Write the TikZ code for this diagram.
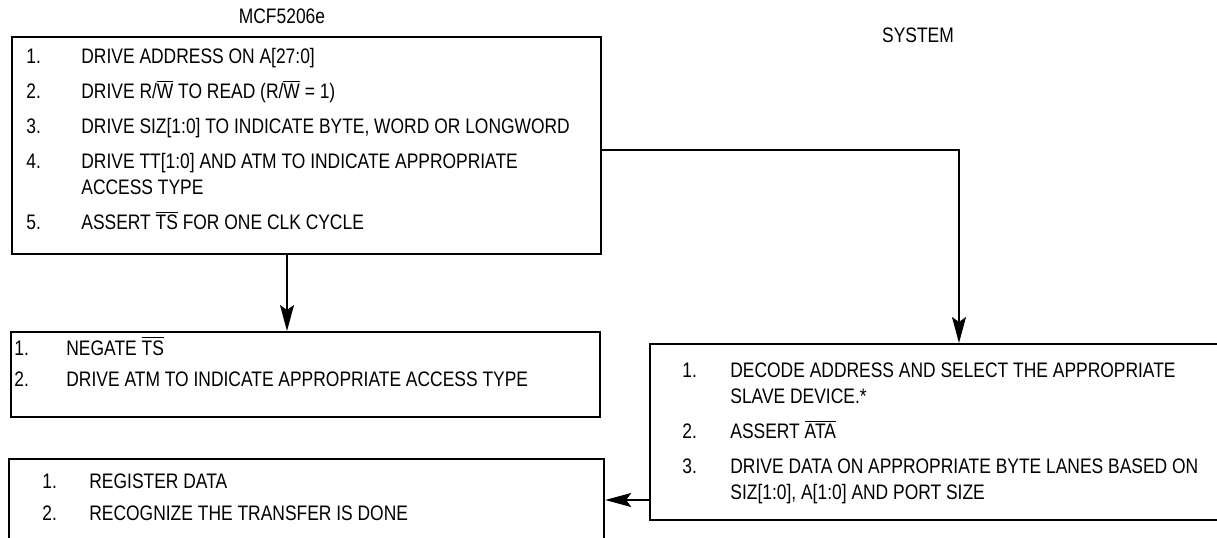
\documentclass[tikz,border=0pt]{standalone}
\usepackage{fontspec}
\setmainfont{Liberation Sans}[FakeStretch=0.83]
\usepackage{tikz}
\usetikzlibrary{calc,positioning}
\usetikzlibrary{arrows.meta}
\tikzset{>={Stealth[length=13pt,width=7pt,inset=2.5pt]}}
\newcommand{\sigbar}[1]{$\overline{\mbox{#1}}$}

\begin{document}
\begin{tikzpicture}[x=0.5pt, y=-0.5pt]
          \tikzstyle{sbox} = [draw, line width=1.1pt, inner sep=0pt, anchor=north west]
          \tikzstyle{slist} = [inner sep=0pt, anchor=base west, font=\fontsize{10.5}{13}\selectfont]
          \tikzstyle{slabel} = [inner sep=0pt, anchor=base, font=\fontsize{10.5}{13}\selectfont]
          \tikzstyle{link} = [line width=0.8pt]

          \useasboundingbox (0,0) rectangle (1217,537);
          \clip (0,0) rectangle (1217,537);

          \node[slabel] (mcf) at (282,23) {MCF5206e};
          \node[slabel] (sys) at (918,42) {SYSTEM};

          \node[sbox, minimum width=294.5pt, minimum height=108.5pt] (mcf1) at (11,36) {};
          \node[sbox, minimum width=294.5pt, minimum height=42.5pt] (mcf2) at (10,331) {};
          \node[sbox, minimum width=297.5pt, minimum height=60pt] (mcf3) at (8,458) {};
          \node[sbox, minimum width=320pt, minimum height=88pt] (sys1) at (649,343) {};

          \node[slist] (mcf1txt) at (26,63) {\begin{tabular}[t]{@{}p{27.5pt}@{}l@{}}
            1. & DRIVE ADDRESS ON A[27:0] \\[4.5pt]
            2. & DRIVE R/\sigbar{W} TO READ (R/\sigbar{W} = 1) \\[4.5pt]
            3. & DRIVE SIZ[1:0] TO INDICATE BYTE, WORD OR LONGWORD \\[4.5pt]
            4. & DRIVE TT[1:0] AND ATM TO INDICATE APPROPRIATE \\
               & ACCESS TYPE \\[4.5pt]
            5. & ASSERT \sigbar{TS} FOR ONE CLK CYCLE
          \end{tabular}};
          \node[slist] (mcf2txt) at (14,355) {\begin{tabular}[t]{@{}p{26pt}@{}l@{}}
            1. & NEGATE \sigbar{TS} \\[2.5pt]
            2. & DRIVE ATM TO INDICATE APPROPRIATE ACCESS TYPE
          \end{tabular}};
          \node[slist] (mcf3txt) at (42,488) {\begin{tabular}[t]{@{}p{23.5pt}@{}l@{}}
            1. & REGISTER DATA \\[3pt]
            2. & RECOGNIZE THE TRANSFER IS DONE
          \end{tabular}};
          \node[slist] (sys1txt) at (682,377) {\begin{tabular}[t]{@{}p{24pt}@{}l@{}}
            1. & DECODE ADDRESS AND SELECT THE APPROPRIATE \\
               & SLAVE DEVICE.* \\[4.5pt]
            2. & ASSERT \sigbar{ATA} \\[4.5pt]
            3. & DRIVE DATA ON APPROPRIATE BYTE LANES BASED ON \\
               & SIZ[1:0], A[1:0] AND PORT SIZE
          \end{tabular}};

          \coordinate (down) at (287,0);
          \coordinate (bend) at (959,150);
          \coordinate (back) at (0,500);
          \draw[link, ->] (mcf1.south -| down) -- (mcf2.north -| down);
          \draw[link, ->] (mcf1.east |- bend) -- (bend) -- (sys1.north -| bend);
          \draw[link, ->] (sys1.west |- back) -- (mcf3.east |- back);
        \end{tikzpicture}
\end{document}
